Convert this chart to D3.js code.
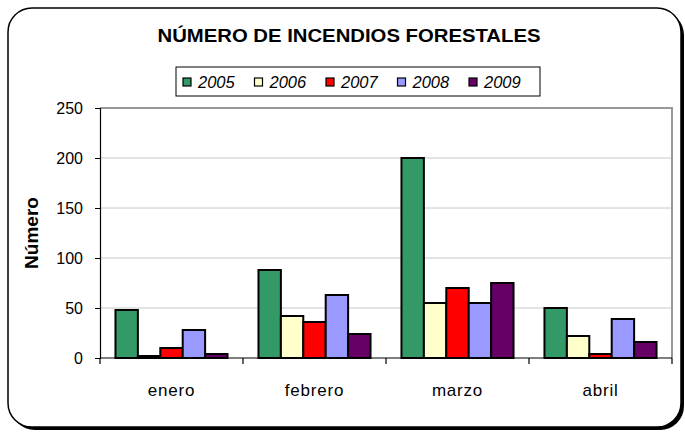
<!DOCTYPE html>
<html>
<head>
<meta charset="utf-8">
<script src="https://cdn.jsdelivr.net/npm/d3@7"></script>
<style>
  body { margin: 0; background: #fff; }
  text { font-family: "Liberation Sans", Arial, sans-serif; }
</style>
</head>
<body>
<div id="container"></div>
<script>
/* DATA */
const months = ["enero", "febrero", "marzo", "abril"];
const years = ["2005", "2006", "2007", "2008", "2009"];
const colors = ["#339966", "#FFFFCC", "#FF0000", "#9999FF", "#660066"];
const v2005 = [48, 88, 200, 50];
const v2006 = [2, 42, 55, 22];
const v2007 = [10, 36, 70, 4];
const v2008 = [28, 63, 55, 39];
const v2009 = [4, 24, 75, 16];
const yTicks = [0, 50, 100, 150, 200, 250];

const series = [v2005, v2006, v2007, v2008, v2009];

/* CONSTANTS */
const width = 685, height = 432;
const margin = { top: 108, bottom: 74, left: 100, right: 13 };

const svg = d3.select("#container")
  .append("svg")
  .attr("width", width)
  .attr("height", height);

// outer frame with shadow
svg.append("rect")
  .attr("x", 11).attr("y", 11)
  .attr("width", 673).attr("height", 419)
  .attr("rx", 24)
  .attr("fill", "#000");
svg.append("rect")
  .attr("x", 8).attr("y", 8)
  .attr("width", 673).attr("height", 419)
  .attr("rx", 24)
  .attr("fill", "#fff")
  .attr("stroke", "#000")
  .attr("stroke-width", 1.5);

// SCALES
const x0 = d3.scaleBand()
  .domain(months)
  .range([margin.left, width - margin.right]);

const x1 = d3.scaleBand()
  .domain(years)
  .range([0, x0.bandwidth()])
  .paddingInner(0)
  .paddingOuter(0.69);

const y = d3.scaleLinear()
  .domain([0, 250])
  .range([height - margin.bottom, margin.top]);

// gridlines
svg.append("g")
  .selectAll("line")
  .data(yTicks.slice(1, -1))
  .join("line")
  .attr("x1", margin.left)
  .attr("x2", width - margin.right)
  .attr("y1", d => y(d))
  .attr("y2", d => y(d))
  .attr("stroke", "#c8c8c8")
  .attr("stroke-width", 1);

// plot area border top + right (gray)
svg.append("path")
  .attr("d", `M${margin.left},${y(250)}H${width - margin.right}V${y(0)}`)
  .attr("fill", "none")
  .attr("stroke", "#999")
  .attr("stroke-width", 2);

// BARS
const groups = svg.append("g")
  .selectAll("g")
  .data(years)
  .join("g")
  .attr("fill", (d, i) => colors[i]);

groups.selectAll("rect")
  .data((yr, i) => months.map((m, j) => ({ m, yr, v: series[i][j] })))
  .join("rect")
  .attr("x", d => x0(d.m) + x1(d.yr))
  .attr("width", x1.bandwidth())
  .attr("y", d => y(d.v))
  .attr("height", d => y(0) - y(d.v))
  .attr("stroke", "#000")
  .attr("stroke-width", 2);

// AXES
const yAxis = d3.axisLeft(y).tickValues(yTicks).tickSize(5).tickPadding(12);
const gy = svg.append("g")
  .attr("transform", `translate(${margin.left},0)`)
  .call(yAxis);
gy.select(".domain").attr("stroke", "#000").attr("stroke-width", 1.2);
gy.selectAll("text").attr("font-size", 16).attr("fill", "#000")
  .attr("font-family", "Liberation Sans, Arial, sans-serif");

const gx = svg.append("g")
  .attr("transform", `translate(0,${y(0)})`);
gx.append("line")
  .attr("x1", margin.left).attr("x2", width - margin.right)
  .attr("stroke", "#000").attr("stroke-width", 1.2);
gx.selectAll("line.tick")
  .data(months.map(m => x0(m)).concat([width - margin.right]))
  .join("line")
  .attr("class", "tick")
  .attr("x1", d => d).attr("x2", d => d)
  .attr("y1", 0).attr("y2", 6)
  .attr("stroke", "#000").attr("stroke-width", 1.2);
gx.selectAll("text")
  .data(months)
  .join("text")
  .attr("x", d => x0(d) + x0.bandwidth() / 2)
  .attr("y", 38)
  .attr("text-anchor", "middle")
  .attr("font-size", 17)
  .attr("letter-spacing", 0.8)
  .text(d => d);

// Y LABEL
svg.append("text")
  .attr("transform", `translate(38,${(y(0) + y(250)) / 2}) rotate(-90)`)
  .attr("text-anchor", "middle")
  .attr("font-size", 19)
  .attr("font-weight", "bold")
  .text("Número");

// TITLE
svg.append("text")
  .attr("x", 349)
  .attr("y", 42)
  .attr("text-anchor", "middle")
  .attr("font-size", 18)
  .attr("font-weight", "bold")
  .attr("textLength", 383)
  .attr("lengthAdjust", "spacingAndGlyphs")
  .text("NÚMERO DE INCENDIOS FORESTALES");

// LEGEND
const legend = svg.append("g");
legend.append("rect")
  .attr("x", 176).attr("y", 67)
  .attr("width", 364).attr("height", 29)
  .attr("fill", "#fff")
  .attr("stroke", "#000")
  .attr("stroke-width", 1);

const items = legend.selectAll("g.item")
  .data(years)
  .join("g")
  .attr("class", "item")
  .attr("transform", (d, i) => `translate(${183 + i * 71.5},0)`);
items.append("rect")
  .attr("x", 0).attr("y", 78)
  .attr("width", 8).attr("height", 8)
  .attr("fill", (d, i) => colors[i])
  .attr("stroke", "#000")
  .attr("stroke-width", 1.2);
items.append("text")
  .attr("x", 15).attr("y", 88)
  .attr("font-size", 16.5)
  .attr("font-style", "italic")
  .text(d => d);
</script>
</body>
</html>
